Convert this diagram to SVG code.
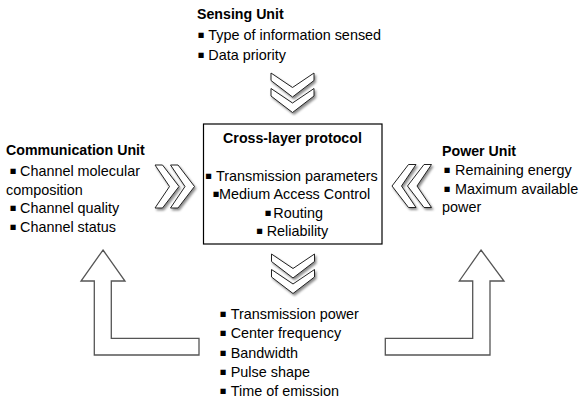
<svg xmlns="http://www.w3.org/2000/svg" width="584" height="403" viewBox="0 0 584 403">
<style>
text{font-family:"Liberation Sans",Arial,sans-serif;font-size:14.4px;fill:#000}
.b{font-weight:bold;font-size:14.2px}
.bu{font-family:"DejaVu Sans",sans-serif;font-size:10.5px}
.chev{fill:#fff;stroke:#222;stroke-width:1;stroke-linejoin:miter}
.arr{fill:#fff;stroke:#555;stroke-width:1.3}
.box{fill:#fff;stroke:#000;stroke-width:1.2}
</style>
<defs>
<filter id="sh" x="-30%" y="-30%" width="160%" height="160%">
<feDropShadow dx="1.5" dy="2" stdDeviation="1.2" flood-color="#000" flood-opacity="0.45"/>
</filter>
<path id="cd" d="M0,0 L21.5,14.5 L43,0 L43,7.5 L21.5,24 L0,7.5 Z"/>
<path id="cr" d="M0,0 L14.5,21.5 L0,43 L7.5,43 L24,21.5 L7.5,0 Z"/>
<path id="cl" d="M24,0 L9.5,21.5 L24,43 L16.5,43 L0,21.5 L16.5,0 Z"/>
</defs>
<rect width="584" height="403" fill="#fff"/>

<g id="connectors">
<g filter="url(#sh)">
<use href="#cd" class="chev" x="271" y="73"/>
<use href="#cd" class="chev" x="271" y="88.5"/>
</g>
<g filter="url(#sh)">
<use href="#cd" class="chev" x="271.5" y="254"/>
<use href="#cd" class="chev" x="271.5" y="269.5"/>
</g>
<g filter="url(#sh)">
<use href="#cr" class="chev" x="155" y="165"/>
<use href="#cr" class="chev" x="170.5" y="165"/>
</g>
<g filter="url(#sh)">
<use href="#cl" class="chev" x="392" y="164.5"/>
<use href="#cl" class="chev" x="407.5" y="164.5"/>
</g>
<path class="arr" d="M103,250 L125,281 L111.3,281 L111.3,338.3 L199,338.3 L199,355 L94.3,355 L94.3,281 L81,281 Z"/>
<path class="arr" d="M481,250 L504,281 L490,281 L490,355 L385.3,355 L385.3,338.3 L472.7,338.3 L472.7,281 L459.3,281 Z"/>
</g>

<g id="sensing">
<text class="b" x="197" y="19">Sensing Unit</text>
<text y="40"><tspan class="bu" x="197.5" dy="-2">▪</tspan><tspan x="208.3" dy="2">Type of information sensed</tspan></text>
<text y="59.5"><tspan class="bu" x="197.5" dy="-2">▪</tspan><tspan x="208.3" dy="2">Data priority</tspan></text>
</g>

<g id="communication">
<text class="b" x="6" y="155">Communication Unit</text>
<text y="176"><tspan class="bu" x="9.5" dy="-2">▪</tspan><tspan x="20" dy="2">Channel molecular</tspan></text>
<text x="6" y="194.5">composition</text>
<text y="213"><tspan class="bu" x="9.5" dy="-2">▪</tspan><tspan x="20" dy="2">Channel quality</tspan></text>
<text y="231.5"><tspan class="bu" x="9.5" dy="-2">▪</tspan><tspan x="20" dy="2">Channel status</tspan></text>
</g>

<g id="protocol">
<rect class="box" x="203.5" y="124" width="178.5" height="120"/>
<text class="b" x="292.5" y="143" text-anchor="middle">Cross-layer protocol</text>
<text y="180.5"><tspan class="bu" x="205" dy="-2">▪</tspan><tspan x="216" dy="2">Transmission parameters</tspan></text>
<text y="199"><tspan class="bu" x="212.5" dy="-2">▪</tspan><tspan x="219" dy="2">Medium Access Control</tspan></text>
<text y="217.5"><tspan class="bu" x="264.5" dy="-2">▪</tspan><tspan x="273.3" dy="2">Routing</tspan></text>
<text y="236"><tspan class="bu" x="256" dy="-2">▪</tspan><tspan x="266.7" dy="2">Reliability</tspan></text>
</g>

<g id="power">
<text class="b" x="442" y="156">Power Unit</text>
<text y="175"><tspan class="bu" x="443.5" dy="-2">▪</tspan><tspan x="455" dy="2">Remaining energy</tspan></text>
<text y="193.5"><tspan class="bu" x="443.5" dy="-2">▪</tspan><tspan x="455" dy="2">Maximum available</tspan></text>
<text x="442" y="212">power</text>
</g>

<g id="parameters">
<text y="319"><tspan class="bu" x="219.5" dy="-2">▪</tspan><tspan x="230.7" dy="2">Transmission power</tspan></text>
<text y="338.3"><tspan class="bu" x="219.5" dy="-2">▪</tspan><tspan x="230.7" dy="2">Center frequency</tspan></text>
<text y="357.6"><tspan class="bu" x="219.5" dy="-2">▪</tspan><tspan x="230.7" dy="2">Bandwidth</tspan></text>
<text y="377"><tspan class="bu" x="219.5" dy="-2">▪</tspan><tspan x="230.7" dy="2">Pulse shape</tspan></text>
<text y="396.3"><tspan class="bu" x="219.5" dy="-2">▪</tspan><tspan x="230.7" dy="2">Time of emission</tspan></text>
</g>
</svg>
